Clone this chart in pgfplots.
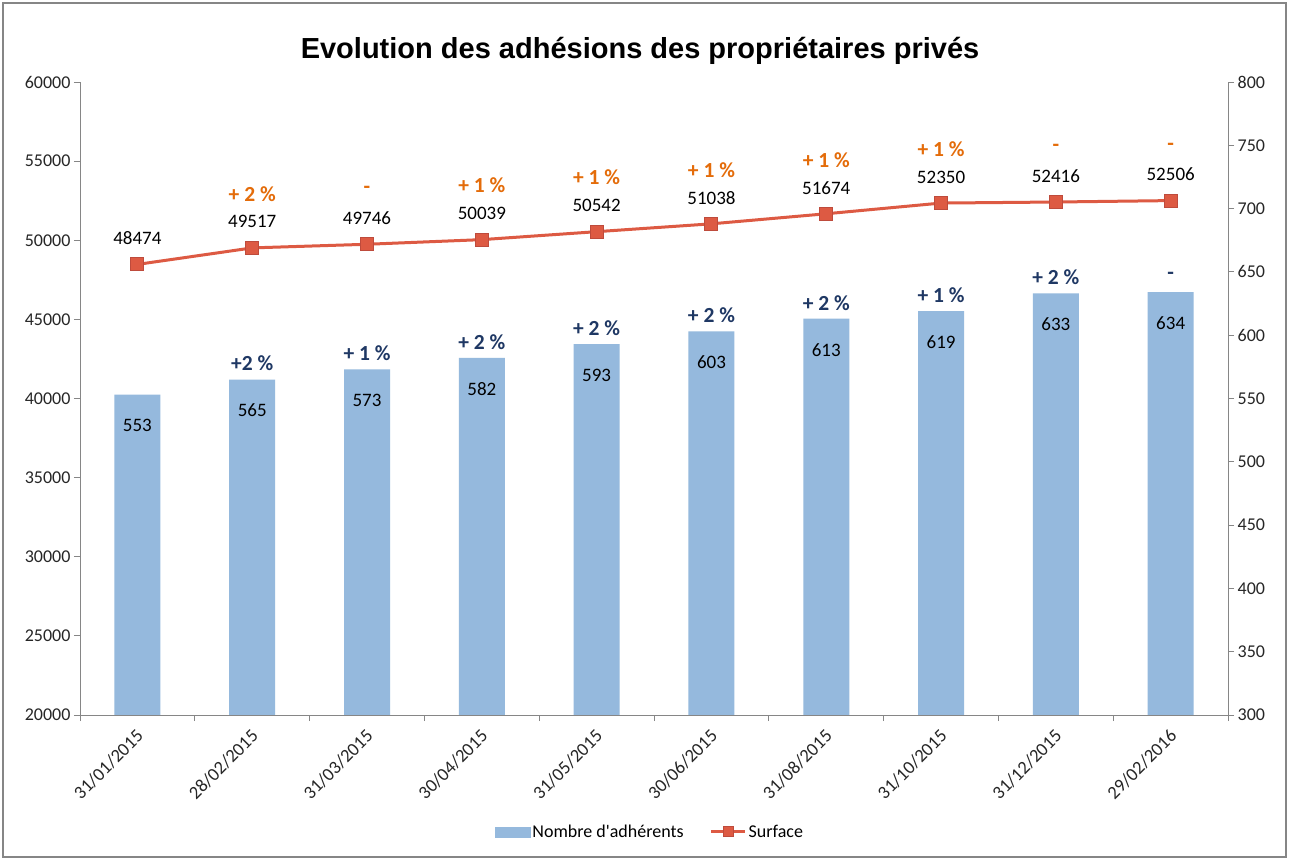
\documentclass[border=0pt]{standalone}
\usepackage{fontspec}
\setmainfont{Carlito}
\newfontfamily\plainfont{Carlito}
\newfontfamily\titlefont{Liberation Sans}
\usepackage{pgfplots}
\pgfplotsset{compat=1.18}
\definecolor{barblue}{RGB}{149,185,221}
\definecolor{linered}{RGB}{221,90,67}
\definecolor{markborder}{RGB}{190,75,60}
\definecolor{pctorange}{RGB}{228,108,10}
\definecolor{pctblue}{RGB}{31,56,100}
\definecolor{axisgray}{RGB}{134,134,134}
\pgfplotsset{common/.style={
  at={(80pt,145pt)}, anchor=south west, scale only axis, width=1148pt, height=633pt,
  xmin=-0.5, xmax=9.5, clip=false,
  axis line style={axisgray, line width=0.8pt},
  tick style={axisgray, line width=0.8pt},
  tick align=outside, major tick length=6pt, minor tick length=6pt,
  ticklabel style={font=\fontsize{18}{20}\selectfont, text=black!85},
  scaled y ticks=false,
  /pgf/number format/assume math mode=true,
  /pgf/number format/1000 sep={},
}}
\begin{document}
\begin{tikzpicture}[x=1pt,y=1pt]
\useasboundingbox (0,0) rectangle (1289,860);
\fill[white] (0,0) rectangle (1289,860);
\draw[axisgray, line width=1.2pt] (3,3) rectangle (1286,857);
\node[font=\titlefont\bfseries\fontsize{29}{32}\selectfont] at (640,809) {Evolution des adhésions des propriétaires privés};

\begin{axis}[common, ymin=300, ymax=800, ytick={300,350,...,800}, axis y line*=right, axis x line=none]
\addplot[ybar, bar width=46pt, fill=barblue, draw=none,
  nodes near coords, every node near coord/.append style={anchor=center, yshift=-31pt, font=\fontsize{19}{20}\selectfont, text=black}]
  coordinates {(0,553) (1,565) (2,573) (3,582) (4,593) (5,603) (6,613) (7,619) (8,633) (9,634)};
\addplot[draw=none, mark=none, point meta=explicit symbolic, nodes near coords,
  every node near coord/.append style={anchor=center, yshift=16pt, font=\bfseries\fontsize{21.5}{22}\selectfont, text=pctblue}]
  coordinates {(1,565)[+2 \%] (2,573)[+ 1 \%] (3,582)[+ 2 \%] (4,593)[+ 2 \%] (5,603)[+ 2 \%] (6,613)[+ 2 \%] (7,619)[+ 1 \%] (8,633)[+ 2 \%] (9,634)[-]};
\end{axis}

\begin{axis}[common, ymin=20000, ymax=60000, ytick={20000,25000,...,60000},
  axis y line*=left, axis x line*=bottom,
  xtick={0,...,9},
  xticklabels={31/01/2015,28/02/2015,31/03/2015,30/04/2015,31/05/2015,30/06/2015,31/08/2015,31/10/2015,31/12/2015,29/02/2016},
  minor xtick={-0.5,0.5,...,9.5},
  major x tick style={draw=none},
  xticklabel style={rotate=45, anchor=north east, xshift=-3pt, font=\fontsize{18.5}{20}\selectfont},
  legend style={at={(0.4965,-0.1848)}, anchor=center, draw=none, fill=none,
    legend columns=2, font=\plainfont\fontsize{18}{20}\selectfont,
    /tikz/every even column/.append style={column sep=24pt}},
  ]
\addlegendimage{legend image code/.code={\fill[barblue] (0pt,-5pt) rectangle (35pt,5pt);}}
\addlegendentry{Nombre d'adhérents}
\addplot[linered, line width=3pt, mark=square*, mark size=6.5pt,
  mark options={fill=linered, draw=markborder, line width=1pt},
  nodes near coords, every node near coord/.append style={anchor=center, yshift=26pt, font=\fontsize{19}{20}\selectfont, text=black},
  legend image code/.code={\draw[linered, line width=3pt] (0pt,0pt) -- (34pt,0pt); \node[draw=markborder, fill=linered, line width=1pt, minimum size=10pt, inner sep=0pt] at (17pt,0pt) {};}]
  coordinates {(0,48474) (1,49517) (2,49746) (3,50039) (4,50542) (5,51038) (6,51674) (7,52350) (8,52416) (9,52506)};
\addlegendentry{Surface}
\addplot[forget plot, draw=none, mark=none, point meta=explicit symbolic, nodes near coords,
  every node near coord/.append style={anchor=center, yshift=54pt, font=\bfseries\fontsize{21.5}{22}\selectfont, text=pctorange}]
  coordinates {(1,49517)[+ 2 \%] (2,49746)[-] (3,50039)[+ 1 \%] (4,50542)[+ 1 \%] (5,51038)[+ 1 \%] (6,51674)[+ 1 \%] (7,52350)[+ 1 \%] (8,52416)[-] (9,52506)[-]};
\end{axis}
\end{tikzpicture}
\end{document}
